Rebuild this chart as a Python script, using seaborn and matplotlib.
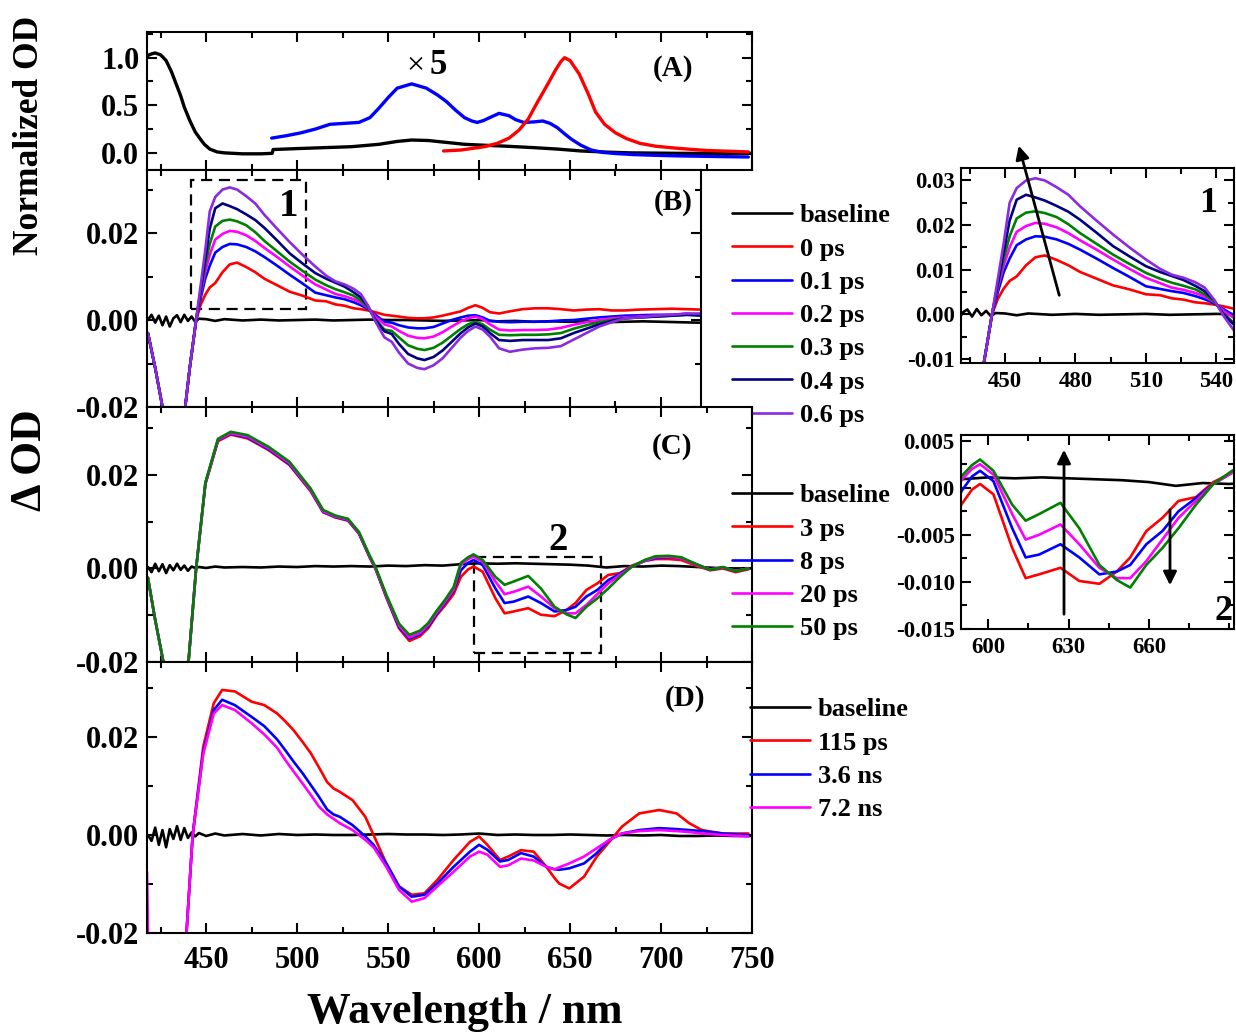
import numpy as np
import pandas as pd
import matplotlib
matplotlib.use('Agg')
import matplotlib.pyplot as plt
import seaborn as sns
from matplotlib.ticker import MultipleLocator, FixedLocator, FormatStrFormatter
from matplotlib.patches import Rectangle, FancyArrowPatch

# ---------------- data ----------------
# Panel A: steady-state spectra (normalized)
wl_A_abs = [417.5, 420, 422, 425, 428, 431, 434, 436, 438, 441, 444, 447, 449, 452, 456,
            460, 470, 480, 486.3, 486.8, 500, 515, 530, 545, 555, 563, 572, 582, 592, 603,
            615, 630, 643, 656, 670, 683, 710, 750]
abs_A = [1.02, 1.04, 1.05, 1.03, 0.97, 0.85, 0.70, 0.60, 0.48, 0.34, 0.22, 0.14, 0.09, 0.04, 0.01,
         0.0, -0.01, -0.01, -0.005, 0.035, 0.045, 0.055, 0.065, 0.09, 0.12, 0.135, 0.13, 0.11, 0.09, 0.08,
         0.07, 0.055, 0.04, 0.02, 0.008, 0.0, -0.005, -0.005]
wl_A_x5 = [486, 494, 502, 510, 518, 526, 534, 540, 544.5, 550, 555, 563, 571, 577, 582, 587, 592, 596,
           599, 602.5, 605.8, 611, 616.5, 620, 624.5, 630, 635, 639, 643, 647, 651, 656, 661.6, 668,
           675, 685, 696, 710, 723, 736, 748]
x5_A = [0.155, 0.18, 0.21, 0.25, 0.30, 0.31, 0.32, 0.37, 0.46, 0.58, 0.68, 0.725, 0.68, 0.61, 0.54,
        0.45, 0.37, 0.335, 0.32, 0.34, 0.37, 0.415, 0.39, 0.35, 0.32, 0.325, 0.335, 0.31, 0.265, 0.2,
        0.14, 0.08, 0.03, 0.005, -0.007, -0.018, -0.025, -0.032, -0.036, -0.04, -0.043]
wl_A_em = [580.5, 590, 603, 610, 616.5, 622, 627, 632, 637.7, 642, 645, 647, 650, 655, 660, 664, 669,
           675, 681, 688.4, 697, 709.6, 725, 748]
em_A = [0.02, 0.03, 0.065, 0.10, 0.155, 0.24, 0.355, 0.53, 0.72, 0.87, 0.96, 1.0, 0.97, 0.83, 0.62,
        0.43, 0.3, 0.21, 0.15, 0.10, 0.07, 0.047, 0.025, 0.01]

# baselines (shared wavelength grid)
wl_base = [418, 420, 422, 424, 426, 428, 430, 432, 434, 436, 438, 440, 442, 444, 446, 450, 455, 460,
           470, 480, 490, 500, 510, 520, 530, 540, 550, 560, 570, 580, 590, 600, 610, 620, 630, 640,
           650, 660, 670, 680, 690, 700, 710, 720, 730, 740, 750]
base_B = [0.0, 0.0012, -0.0006, 0.0010, -0.0012, 0.0008, -0.0015, 0.0004, 0.0011, -0.0005, 0.0012,
          -0.0002, 0.0008, -0.0004, 0.0003, 0.0002, -0.0002, 0.0002,
          -0.0001, 0.0001, -0.0001, 0.0, 0.0001, -0.0001, 0.0, 0.0001, 0.0, 0.0, -0.0001, -0.0002,
          -0.0001, 0.0, -0.0003, -0.0002, -0.0004, -0.0003, -0.0004, -0.0003, -0.0005, -0.0004,
          -0.0003, -0.0004, -0.0005, -0.0006, -0.0006, -0.0006, -0.0006]
base_C = [0.0003, -0.0008, 0.0010, -0.0006, 0.0009, -0.0010, 0.0007, -0.0004, 0.0010, -0.0003, 0.0006,
          -0.0005, 0.0004, 0.0001, 0.0003, 0.0001, 0.0004, 0.0002,
          0.0003, 0.0002, 0.0004, 0.0003, 0.0005, 0.0004, 0.0005, 0.0004, 0.0006, 0.0005, 0.0007, 0.0006,
          0.0009, 0.0011, 0.0010, 0.0011, 0.0010, 0.0009, 0.0008, 0.0006, 0.0002, 0.0005, 0.0004,
          0.0006, 0.0005, 0.0003, 0.0001, 0.0000, 0.0000]
base_D = [0.0, -0.0012, 0.0015, -0.0020, 0.0010, -0.0025, 0.0012, -0.0008, 0.0018, -0.0010, 0.0014,
          -0.0006, 0.0005, -0.0003, 0.0004, -0.0002, 0.0003, -0.0001,
          0.0002, -0.0001, 0.0002, 0.0, 0.0001, 0.0, 0.0, 0.0001, 0.0002, 0.0001, 0.0001, 0.0,
          0.0001, 0.0003, 0.0, 0.0001, 0.0, 0.0, 0.0001, 0.0, -0.0001, 0.0, -0.0001, 0.0, -0.0002,
          -0.0002, -0.0001, -0.0002, -0.0002]

# Panel B (0 - 0.6 ps)
wl_B = [418, 422, 426, 432, 438.5, 441, 444.5, 447, 449.5, 452, 455, 459, 463, 467, 472, 477, 482, 489,
        496, 503, 510, 516, 521, 526, 531, 535, 539, 543, 548, 552, 556, 561, 566, 570, 575, 580, 585,
        590, 594, 598, 602, 606, 611, 617, 624, 631, 638, 645, 652, 659, 666, 673, 680, 688, 697, 706,
        714, 722]
B_0ps = [-0.003, -0.011, -0.02, -0.03, -0.02, -0.011,
         0.0, 0.0035, 0.0058, 0.0075, 0.0085, 0.0110, 0.0128, 0.0132, 0.0122, 0.0110,
         0.0095, 0.0080, 0.0065, 0.0056, 0.0045, 0.0043, 0.0036, 0.0033, 0.0027, 0.0025,
         0.0022, 0.0018, 0.0012, 0.0010, 0.0008, 0.0005, 0.0004, 0.0004, 0.0006, 0.0010,
         0.0015, 0.0020, 0.0028, 0.0034, 0.0028, 0.0018, 0.0015, 0.0020, 0.0025, 0.0027,
         0.0027, 0.0025, 0.0022, 0.0024, 0.0025, 0.0022, 0.0022, 0.0024, 0.0025, 0.0026,
         0.0025, 0.0024]
B_01ps = [-0.003, -0.011, -0.02, -0.03, -0.02, -0.011,
          0.0, 0.005, 0.0095, 0.0125, 0.0155, 0.0168, 0.0175, 0.0174, 0.0168, 0.0158,
          0.0145, 0.0125, 0.0104, 0.0084, 0.0063, 0.0057, 0.0052, 0.0048, 0.0041, 0.0034,
          0.0025, 0.0012, -0.0004, -0.0006, -0.0012, -0.0017, -0.0019, -0.0019, -0.0016, -0.0008,
          0.0, 0.0006, 0.0010, 0.0011, 0.0006, -0.0002, -0.0004, -0.0005, -0.0004, -0.0004,
          -0.0003, -0.0001, 0.0, 0.0003, 0.0006, 0.0008, 0.0010, 0.0011, 0.0012, 0.0012,
          0.0014, 0.0012]
B_02ps = [-0.003, -0.011, -0.02, -0.03, -0.02, -0.011,
          0.0, 0.006, 0.011, 0.015, 0.0185, 0.0198, 0.0205, 0.0203, 0.0195, 0.0182,
          0.0166, 0.0145, 0.0123, 0.0102, 0.0082, 0.0070, 0.0060, 0.0055, 0.0048, 0.0040,
          0.0028, 0.0008, -0.0010, -0.0015, -0.0025, -0.0036, -0.0041, -0.0042, -0.0038, -0.0028,
          -0.0015, -0.0003, 0.0004, 0.0008, 0.0002, -0.0010, -0.0022, -0.0024, -0.0023, -0.0023,
          -0.0022, -0.0018, -0.0011, -0.0005, 0.0, 0.0004, 0.0006, 0.0008, 0.0010, 0.0012,
          0.0014, 0.0012]
B_03ps = [-0.003, -0.011, -0.02, -0.03, -0.02, -0.011,
          0.0, 0.0065, 0.0125, 0.0175, 0.0215, 0.0228, 0.0231, 0.0227, 0.0218, 0.0202,
          0.0182, 0.0158, 0.0134, 0.0113, 0.0093, 0.0080, 0.0071, 0.0064, 0.0056, 0.0045,
          0.0029, 0.0002, -0.0022, -0.0025, -0.0040, -0.0058, -0.0066, -0.0069, -0.0064, -0.0052,
          -0.0036, -0.0020, -0.0010, -0.0004, -0.0010, -0.0022, -0.0034, -0.0035, -0.0034, -0.0034,
          -0.0033, -0.0030, -0.0020, -0.0012, -0.0005, 0.0, 0.0004, 0.0006, 0.0008, 0.0010,
          0.0012, 0.0012]
B_04ps = [-0.003, -0.011, -0.02, -0.03, -0.02, -0.011,
          0.0, 0.007, 0.014, 0.021, 0.0257, 0.0268, 0.0262, 0.0255, 0.0243, 0.0230,
          0.0212, 0.0183, 0.0153, 0.013, 0.0108, 0.0095, 0.0086, 0.0077, 0.0064, 0.0052,
          0.0032, 0.0, -0.0026, -0.0032, -0.0055, -0.0078, -0.0088, -0.0092, -0.0085, -0.0070,
          -0.0050, -0.0030, -0.0017, -0.0008, -0.0015, -0.0030, -0.0046, -0.0048, -0.0046, -0.0046,
          -0.0046, -0.0042, -0.0030, -0.0020, -0.0010, -0.0002, 0.0004, 0.0006, 0.0008, 0.0010,
          0.0012, 0.0010]
B_06ps = [-0.003, -0.011, -0.02, -0.03, -0.02, -0.011,
          0.0, 0.008, 0.016, 0.025, 0.0283, 0.030, 0.0305, 0.030, 0.0285, 0.0268,
          0.0242, 0.021, 0.0179, 0.015, 0.0123, 0.0102, 0.0089, 0.0082, 0.0072, 0.006,
          0.0033, -0.0003, -0.004, -0.005, -0.0075, -0.0100, -0.0110, -0.0113, -0.0104, -0.0088,
          -0.0064, -0.0040, -0.0025, -0.0015, -0.0022, -0.0038, -0.0065, -0.0073, -0.0068, -0.0065,
          -0.0064, -0.0060, -0.0045, -0.0030, -0.0015, -0.0005, 0.0004, 0.0006, 0.0010, 0.0012,
          0.0015, 0.0015]

# Panel C (3 - 50 ps)
wl_C = [418, 422, 426.5, 432, 440.3, 444.5, 449.6, 456.5, 463.5, 472.7, 484.3, 495.8, 507.4, 514.3,
        521, 528, 534, 539.8, 543.2, 549, 556, 561.7, 567.5, 572, 576.8, 581.5, 586, 590, 594, 597,
        602, 609, 614, 619, 627, 634, 641.5, 648, 653, 659, 665, 671, 677.5, 684, 691, 697, 704, 711,
        720, 727, 734, 741, 748]
C_3ps = [-0.002, -0.011, -0.02, -0.03, -0.02,
         0.0, 0.0180, 0.0272, 0.0286, 0.0278, 0.0253, 0.0221, 0.0165, 0.0120, 0.0109,
         0.0102, 0.0074, 0.0024, -0.0002, -0.0062, -0.0128, -0.0155, -0.0145, -0.0128, -0.0100,
         -0.0078, -0.0055, -0.0018, -0.0002, 0.0004, -0.0007, -0.0064, -0.0096, -0.0092, -0.0085,
         -0.0099, -0.0102, -0.0089, -0.0074, -0.0046, -0.0032, -0.0014, -0.0010, 0.0006, 0.0016,
         0.0020, 0.0020, 0.0018, 0.0005, -0.0004, 0.0, -0.0008, -0.0002]
C_8ps = [-0.002, -0.011, -0.02, -0.03, -0.02,
         0.0, 0.0182, 0.0274, 0.0288, 0.0280, 0.0255, 0.0223, 0.0167, 0.0121, 0.0110,
         0.0103, 0.0075, 0.0025, -0.0001, -0.0060, -0.0125, -0.0150, -0.0141, -0.0124, -0.0097,
         -0.0073, -0.0048, -0.0004, 0.0012, 0.0018, 0.0007, -0.0043, -0.0074, -0.0071, -0.0060,
         -0.0074, -0.0092, -0.0089, -0.0082, -0.0060, -0.0046, -0.0025, -0.0011, 0.0004, 0.0016,
         0.0022, 0.0024, 0.0022, 0.0008, -0.0003, 0.0002, -0.0006, 0.0]
C_20ps = [-0.002, -0.011, -0.02, -0.03, -0.02,
          0.0, 0.0182, 0.0275, 0.0289, 0.0282, 0.0257, 0.0225, 0.0168, 0.0122, 0.0111,
          0.0104, 0.0076, 0.0026, 0.0, -0.0059, -0.0122, -0.0147, -0.0138, -0.0121, -0.0094,
          -0.0070, -0.0045, 0.0008, 0.0020, 0.0025, 0.0014, -0.0028, -0.0055, -0.0050, -0.0039,
          -0.0060, -0.0085, -0.0096, -0.0096, -0.0078, -0.0055, -0.0032, -0.0014, 0.0004, 0.0016,
          0.0024, 0.0025, 0.0022, 0.0007, -0.0002, 0.0002, -0.0005, 0.0]
C_50ps = [-0.002, -0.011, -0.02, -0.03, -0.02,
          0.0, 0.0184, 0.0277, 0.0292, 0.0285, 0.0260, 0.0228, 0.0171, 0.0125, 0.0113,
          0.0106, 0.0078, 0.0028, 0.0002, -0.0056, -0.0118, -0.0142, -0.0133, -0.0117, -0.0090,
          -0.0066, -0.0040, 0.0012, 0.0024, 0.0030, 0.0018, -0.0018, -0.0035, -0.0028, -0.0016,
          -0.0043, -0.0082, -0.0098, -0.0106, -0.0082, -0.0064, -0.0043, -0.0018, 0.0004, 0.0018,
          0.0026, 0.0027, 0.0024, 0.0008, -0.0003, 0.0003, -0.0006, 0.0]

# Panel D (115 ps - 7.2 ns)
wl_D = [417.5, 418.5, 425, 432, 439.2, 442.6, 448.4, 454.2, 458.8, 465.8, 475, 482, 489, 493.5, 498,
        503, 507.5, 512, 516.5, 520, 523.5, 530.5, 537.5, 542, 549, 556, 563, 570, 577, 586, 595, 600,
        604.5, 611.5, 616, 623, 630, 637, 641.5, 644, 649.6, 657.7, 664.7, 671.6, 678.5, 688, 699,
        708.6, 715.5, 722.5, 734, 748]
D_115ps = [-0.03, -0.03, -0.03, -0.03, -0.02,
           0.0, 0.018, 0.0269, 0.0296, 0.0293, 0.0272, 0.0265, 0.0248, 0.0232, 0.0214,
           0.0190, 0.0167, 0.0138, 0.0108, 0.0095, 0.0088, 0.0071, 0.0037, 0.0, -0.0058,
           -0.0105, -0.0122, -0.0119, -0.0092, -0.0051, -0.0014, -0.0003, -0.0020, -0.0051, -0.0044,
           -0.0031, -0.0034, -0.0065, -0.0088, -0.0099, -0.0109, -0.0085, -0.0044, -0.0014, 0.0017,
           0.0044, 0.0051, 0.0044, 0.0024, 0.0010, 0.0003, 0.0003]
D_36ns = [-0.03, -0.03, -0.03, -0.03, -0.02,
          0.0, 0.017, 0.0255, 0.0276, 0.0265, 0.0241, 0.0222, 0.0195, 0.0173, 0.0150,
          0.0126, 0.0102, 0.0078, 0.0052, 0.0042, 0.0037, 0.0020, -0.0003, -0.0020, -0.0058,
          -0.0105, -0.0126, -0.0122, -0.0099, -0.0065, -0.0034, -0.0020, -0.0030, -0.0054, -0.0051,
          -0.0037, -0.0044, -0.0065, -0.0070, -0.0071, -0.0068, -0.0058, -0.0037, -0.0010, 0.0003,
          0.0010, 0.0014, 0.0012, 0.0010, 0.0008, 0.0003, 0.0]
D_72ns = [-0.0075, -0.03, -0.03, -0.03, -0.02,
          0.0, 0.0165, 0.0248, 0.0265, 0.0255, 0.0228, 0.0205, 0.0178, 0.0153, 0.0130,
          0.0105, 0.0082, 0.0058, 0.0042, 0.0033, 0.0024, 0.0010, -0.0010, -0.0025, -0.0065,
          -0.0112, -0.0136, -0.0129, -0.0105, -0.0075, -0.0044, -0.0034, -0.0040, -0.0065, -0.0062,
          -0.0048, -0.0052, -0.0065, -0.0070, -0.0066, -0.0058, -0.0044, -0.0027, -0.0010, 0.0003,
          0.0008, 0.0010, 0.0008, 0.0006, 0.0003, 0.0, -0.0003]

labels_B = ['baseline', '0 ps', '0.1 ps', '0.2 ps', '0.3 ps', '0.4 ps', '0.6 ps']
labels_C = ['baseline', '3 ps', '8 ps', '20 ps', '50 ps']
labels_D = ['baseline', '115 ps', '3.6 ns', '7.2 ns']
colors_B = ['#000000', '#ff0000', '#0000ff', '#ff00ff', '#008000', '#000080', '#8a2be2']
colors_C = ['#000000', '#ff0000', '#0000ff', '#ff00ff', '#008000']
colors_D = ['#000000', '#ff0000', '#0000ff', '#ff00ff']


def long_df(pairs):
    frames = []
    for name, wl, vals in pairs:
        frames.append(pd.DataFrame({'wl': wl, 'od': vals, 'series': name}))
    return pd.concat(frames, ignore_index=True)


dfA = long_df([('abs', wl_A_abs, abs_A), ('x5', wl_A_x5, x5_A), ('em', wl_A_em, em_A)])
dfB = long_df([('baseline', wl_base, base_B)] +
              [(l, wl_B, v) for l, v in zip(labels_B[1:], [B_0ps, B_01ps, B_02ps, B_03ps, B_04ps, B_06ps])])
dfC = long_df([('baseline', wl_base, base_C)] +
              [(l, wl_C, v) for l, v in zip(labels_C[1:], [C_3ps, C_8ps, C_20ps, C_50ps])])
dfD = long_df([('baseline', wl_base, base_D)] +
              [(l, wl_D, v) for l, v in zip(labels_D[1:], [D_115ps, D_36ns, D_72ns])])

# ---------------- style ----------------
sns.set_theme(style='ticks')
plt.rcParams['font.family'] = ['Liberation Serif', 'DejaVu Serif']
plt.rcParams['font.weight'] = 'bold'
plt.rcParams['axes.unicode_minus'] = False
for k in ['axes.edgecolor', 'xtick.color', 'ytick.color', 'text.color', 'axes.labelcolor']:
    plt.rcParams[k] = 'black'

W, H = 1236, 1034
fig = plt.figure(figsize=(W / 100, H / 100), dpi=100)
fig.patch.set_facecolor('white')

MAIN_TICK = 22
INSET_TICK = 16.5
LEG = 19


def rect(l, t, r, b):
    return [l / W, 1 - b / H, (r - l) / W, (b - t) / H]


def fx(px):
    return px / W


def fy(py):
    return 1 - py / H


def style(ax, labelsize=MAIN_TICK, ypad=5.5, xpad=9):
    ax.tick_params(which='both', direction='in', top=True, right=True, width=1.5,
                   labelsize=labelsize, colors='black')
    ax.tick_params(which='major', length=7)
    ax.tick_params(which='minor', length=4)
    ax.tick_params(axis='y', pad=ypad)
    ax.tick_params(axis='x', pad=xpad)
    for s in ax.spines.values():
        s.set_linewidth(1.5)
        s.set_color('black')
    ax.set_xlabel('')
    ax.set_ylabel('')
    ax.set_facecolor('white')
    for lab in ax.get_xticklabels() + ax.get_yticklabels():
        lab.set_fontweight('bold')


def draw(ax, df, order, colors, lw=1.9):
    sns.lineplot(data=df, x='wl', y='od', hue='series', hue_order=order, palette=colors,
                 estimator=None, errorbar=None, legend=False, ax=ax, linewidth=lw)


def wl_axis(ax, lim, labels=False):
    ax.set_xlim(*lim)
    ax.xaxis.set_major_locator(MultipleLocator(50))
    ax.xaxis.set_minor_locator(MultipleLocator(25))
    if not labels:
        ax.tick_params(axis='x', labelbottom=False)


def od_axis(ax, lim):
    ax.set_ylim(*lim)
    ax.yaxis.set_major_locator(MultipleLocator(0.02))
    ax.yaxis.set_minor_locator(MultipleLocator(0.01))
    ax.yaxis.set_major_formatter(FormatStrFormatter('%.2f'))


def legend(ax, order, left, top):
    lines = ax.get_lines()[:len(order)]
    ax.legend(lines, order, loc='upper left', bbox_to_anchor=(fx(left), fy(top)),
              bbox_transform=fig.transFigure, frameon=False,
              handlelength=2.27, handletextpad=0.3, labelspacing=0.37,
              borderpad=0, borderaxespad=0, prop={'weight': 'bold', 'size': LEG})


# Panel A
axA = fig.add_axes(rect(147, 32, 752, 170))
draw(axA, dfA, ['abs', 'x5', 'em'], ['#000000', '#0000ff', '#ff0000'], lw=2.4)
wl_axis(axA, (417.5, 750))
axA.set_ylim(-0.18, 1.27)
axA.yaxis.set_major_locator(MultipleLocator(0.5))
axA.yaxis.set_minor_locator(MultipleLocator(0.25))
axA.yaxis.set_major_formatter(FormatStrFormatter('%.1f'))
style(axA)

# Panel B
axB = fig.add_axes(rect(147, 170, 701, 407))
draw(axB, dfB, labels_B, colors_B)
wl_axis(axB, (417.5, 722))
od_axis(axB, (-0.02, 0.0345))
style(axB)
legend(axB, labels_B, 732, 204)
axB.add_patch(Rectangle((441.8, 0.0025), 63.2, 0.0297, fill=False, lw=1.6,
                        ls=(0, (5, 3)), ec='black'))

# Panel C
axC = fig.add_axes(rect(147, 407, 752, 662))
draw(axC, dfC, labels_C, colors_C)
wl_axis(axC, (417.5, 750))
od_axis(axC, (-0.02, 0.0345))
style(axC)
legend(axC, labels_C, 732, 484)
axC.add_patch(Rectangle((597, -0.018), 70, 0.0204, fill=False, lw=1.6,
                        ls=(0, (5, 3)), ec='black'))

# Panel D
axD = fig.add_axes(rect(147, 662, 752, 933))
draw(axD, dfD, labels_D, colors_D)
wl_axis(axD, (417.5, 750), labels=True)
od_axis(axD, (-0.02, 0.0353))
style(axD)
legend(axD, labels_D, 750, 698)

# Inset 1 (zoom of B)
ax1 = fig.add_axes(rect(961, 168, 1234, 363))
draw(ax1, dfB, labels_B, colors_B)
ax1.set_xlim(431.3, 547.5)
ax1.set_ylim(-0.0109, 0.0328)
ax1.xaxis.set_major_locator(FixedLocator([450, 480, 510, 540]))
ax1.xaxis.set_minor_locator(FixedLocator([435, 465, 495, 525]))
ax1.yaxis.set_major_locator(MultipleLocator(0.01))
ax1.yaxis.set_minor_locator(MultipleLocator(0.005))
ax1.yaxis.set_major_formatter(FormatStrFormatter('%.2f'))
style(ax1, labelsize=INSET_TICK, ypad=4.5, xpad=6)

# Inset 2 (zoom of C)
ax2 = fig.add_axes(rect(961, 435, 1234, 629))
draw(ax2, dfC, labels_C, colors_C)
ax2.set_xlim(589.9, 691.7)
ax2.set_ylim(-0.015, 0.0056)
ax2.xaxis.set_major_locator(FixedLocator([600, 630, 660]))
ax2.xaxis.set_minor_locator(FixedLocator([615, 645, 675, 690]))
ax2.yaxis.set_major_locator(MultipleLocator(0.005))
ax2.yaxis.set_minor_locator(MultipleLocator(0.0025))
ax2.yaxis.set_major_formatter(FormatStrFormatter('%.3f'))
style(ax2, labelsize=INSET_TICK, ypad=4.5, xpad=6)

# ---------------- annotations ----------------
fig.text(fx(30), fy(135), 'Normalized OD', rotation=90, ha='center', va='center',
         fontsize=25.5, fontweight='bold')
fig.text(fx(30), fy(460), '\u0394 OD', rotation=90, ha='center', va='center',
         fontsize=31.5, fontweight='bold')
fig.text(fx(465), fy(1012), 'Wavelength / nm', ha='center', va='center',
         fontsize=31.5, fontweight='bold')

for t, (px, py) in {'(A)': (673, 68), '(B)': (673, 203), '(C)': (672, 446), '(D)': (685, 698)}.items():
    fig.text(fx(px), fy(py), t, ha='center', va='center', fontsize=21, fontweight='bold')

fig.text(fx(415), fy(66), '\u00d7', ha='center', va='center', fontsize=23, fontweight='normal')
fig.text(fx(438), fy(66), '5', ha='center', va='center', fontsize=25, fontweight='bold')
fig.text(fx(289), fy(206), '1', ha='center', va='center', fontsize=28, fontweight='bold')
fig.text(fx(558), fy(541), '2', ha='center', va='center', fontsize=28, fontweight='bold')
fig.text(fx(1208), fy(203), '1', ha='center', va='center', fontsize=26, fontweight='bold')
fig.text(fx(1224), fy(612), '2', ha='center', va='center', fontsize=26, fontweight='bold')


def arrow(x0, y0, x1, y1):
    fig.add_artist(FancyArrowPatch((fx(x0), fy(y0)), (fx(x1), fy(y1)), transform=fig.transFigure,
                                   arrowstyle='-|>', mutation_scale=20, lw=2, color='black'))


arrow(1060, 298, 1018, 143)
arrow(1064, 617, 1064, 447)
arrow(1170, 507, 1170, 588)

fig.savefig('out.png', dpi=100, facecolor='white')
